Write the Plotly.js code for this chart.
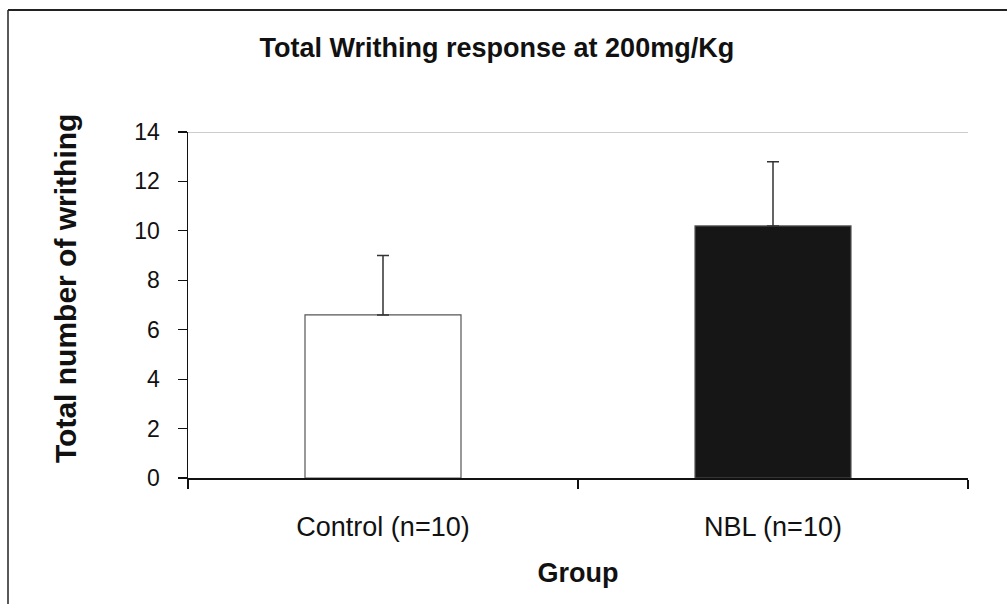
<!DOCTYPE html>
<html>
<head>
<meta charset="utf-8">
<script src="https://cdn.plot.ly/plotly-3.0.1.min.js"></script>
<style>html,body{margin:0;padding:0;background:#fff;}#chart{width:1007px;height:604px;}</style>
</head>
<body>
<div id="chart"></div>
<script>
const groups = ["Control (n=10)", "NBL (n=10)"];
const meanWrithing = [6.6, 10.2];
const errorUp = [2.4, 2.6];
const barColors = ["#ffffff", "#161616"];
const yTicks = [0, 2, 4, 6, 8, 10, 12, 14];

const trace = {
  type: "bar",
  x: groups,
  y: meanWrithing,
  width: 0.4,
  marker: { color: barColors, line: { color: "#555", width: 1.2 } },
  error_y: { type: "data", symmetric: false, array: errorUp, arrayminus: [0, 0], color: "#333", thickness: 1.5, width: 6 },
  hoverinfo: "none"
};

const layout = {
  width: 1007, height: 604,
  margin: { l: 188, r: 39, t: 132, b: 126 },
  paper_bgcolor: "#fff", plot_bgcolor: "#fff",
  showlegend: false,
  font: { family: "Liberation Sans, Arial, sans-serif", color: "#111" },
  title: { text: "<b>Total Writhing response at 200mg/Kg</b>", font: { size: 27, color: "#111" }, x: 0.396, xanchor: "center", xref: "paper", y: 1 - 48/604, yref: "container", yanchor: "middle" },
  xaxis: {
    showline: true, linecolor: "#111", linewidth: 1.5,
    ticks: "outside", tickson: "boundaries", ticklen: 9, tickcolor: "#111", tickwidth: 1.2,
    tickfont: { size: 27, color: "#111" }, ticklabelstandoff: 24,
    showgrid: false, zeroline: false,
    title: { text: "<b>Group</b>", font: { size: 27, color: "#111" }, standoff: 22 }
  },
  yaxis: {
    range: [0, 14], tickvals: yTicks, showline: true, linecolor: "#111", linewidth: 1.5,
    ticks: "outside", ticklen: 9, tickcolor: "#111", tickwidth: 1.2,
    tickfont: { size: 23, color: "#111" }, ticklabelstandoff: 13,
    showgrid: false, zeroline: false
  },
  annotations: [
    { text: "<b>Total number of writhing</b>", xref: "paper", yref: "paper", x: -123/780, y: (478 - 289) / 346, xanchor: "center", yanchor: "middle", textangle: -90, showarrow: false, font: { size: 30, color: "#111" } }
  ],
  shapes: [
    { type: "line", xref: "paper", yref: "y", x0: 0, x1: 1, y0: 14, y1: 14, line: { color: "#cccccc", width: 2 } },
    { type: "line", xref: "paper", yref: "paper", x0: -180/780, x1: 819/780, y0: 1 + 122/346, y1: 1 + 122/346, line: { color: "#222", width: 2 } },
    { type: "line", xref: "paper", yref: "paper", x0: -180/780, x1: -180/780, y0: 1 + 122/346, y1: -126/346, line: { color: "#222", width: 1.5 } }
  ]
};

Plotly.newPlot("chart", [trace], layout, { displayModeBar: false, staticPlot: true });
</script>
</body>
</html>
